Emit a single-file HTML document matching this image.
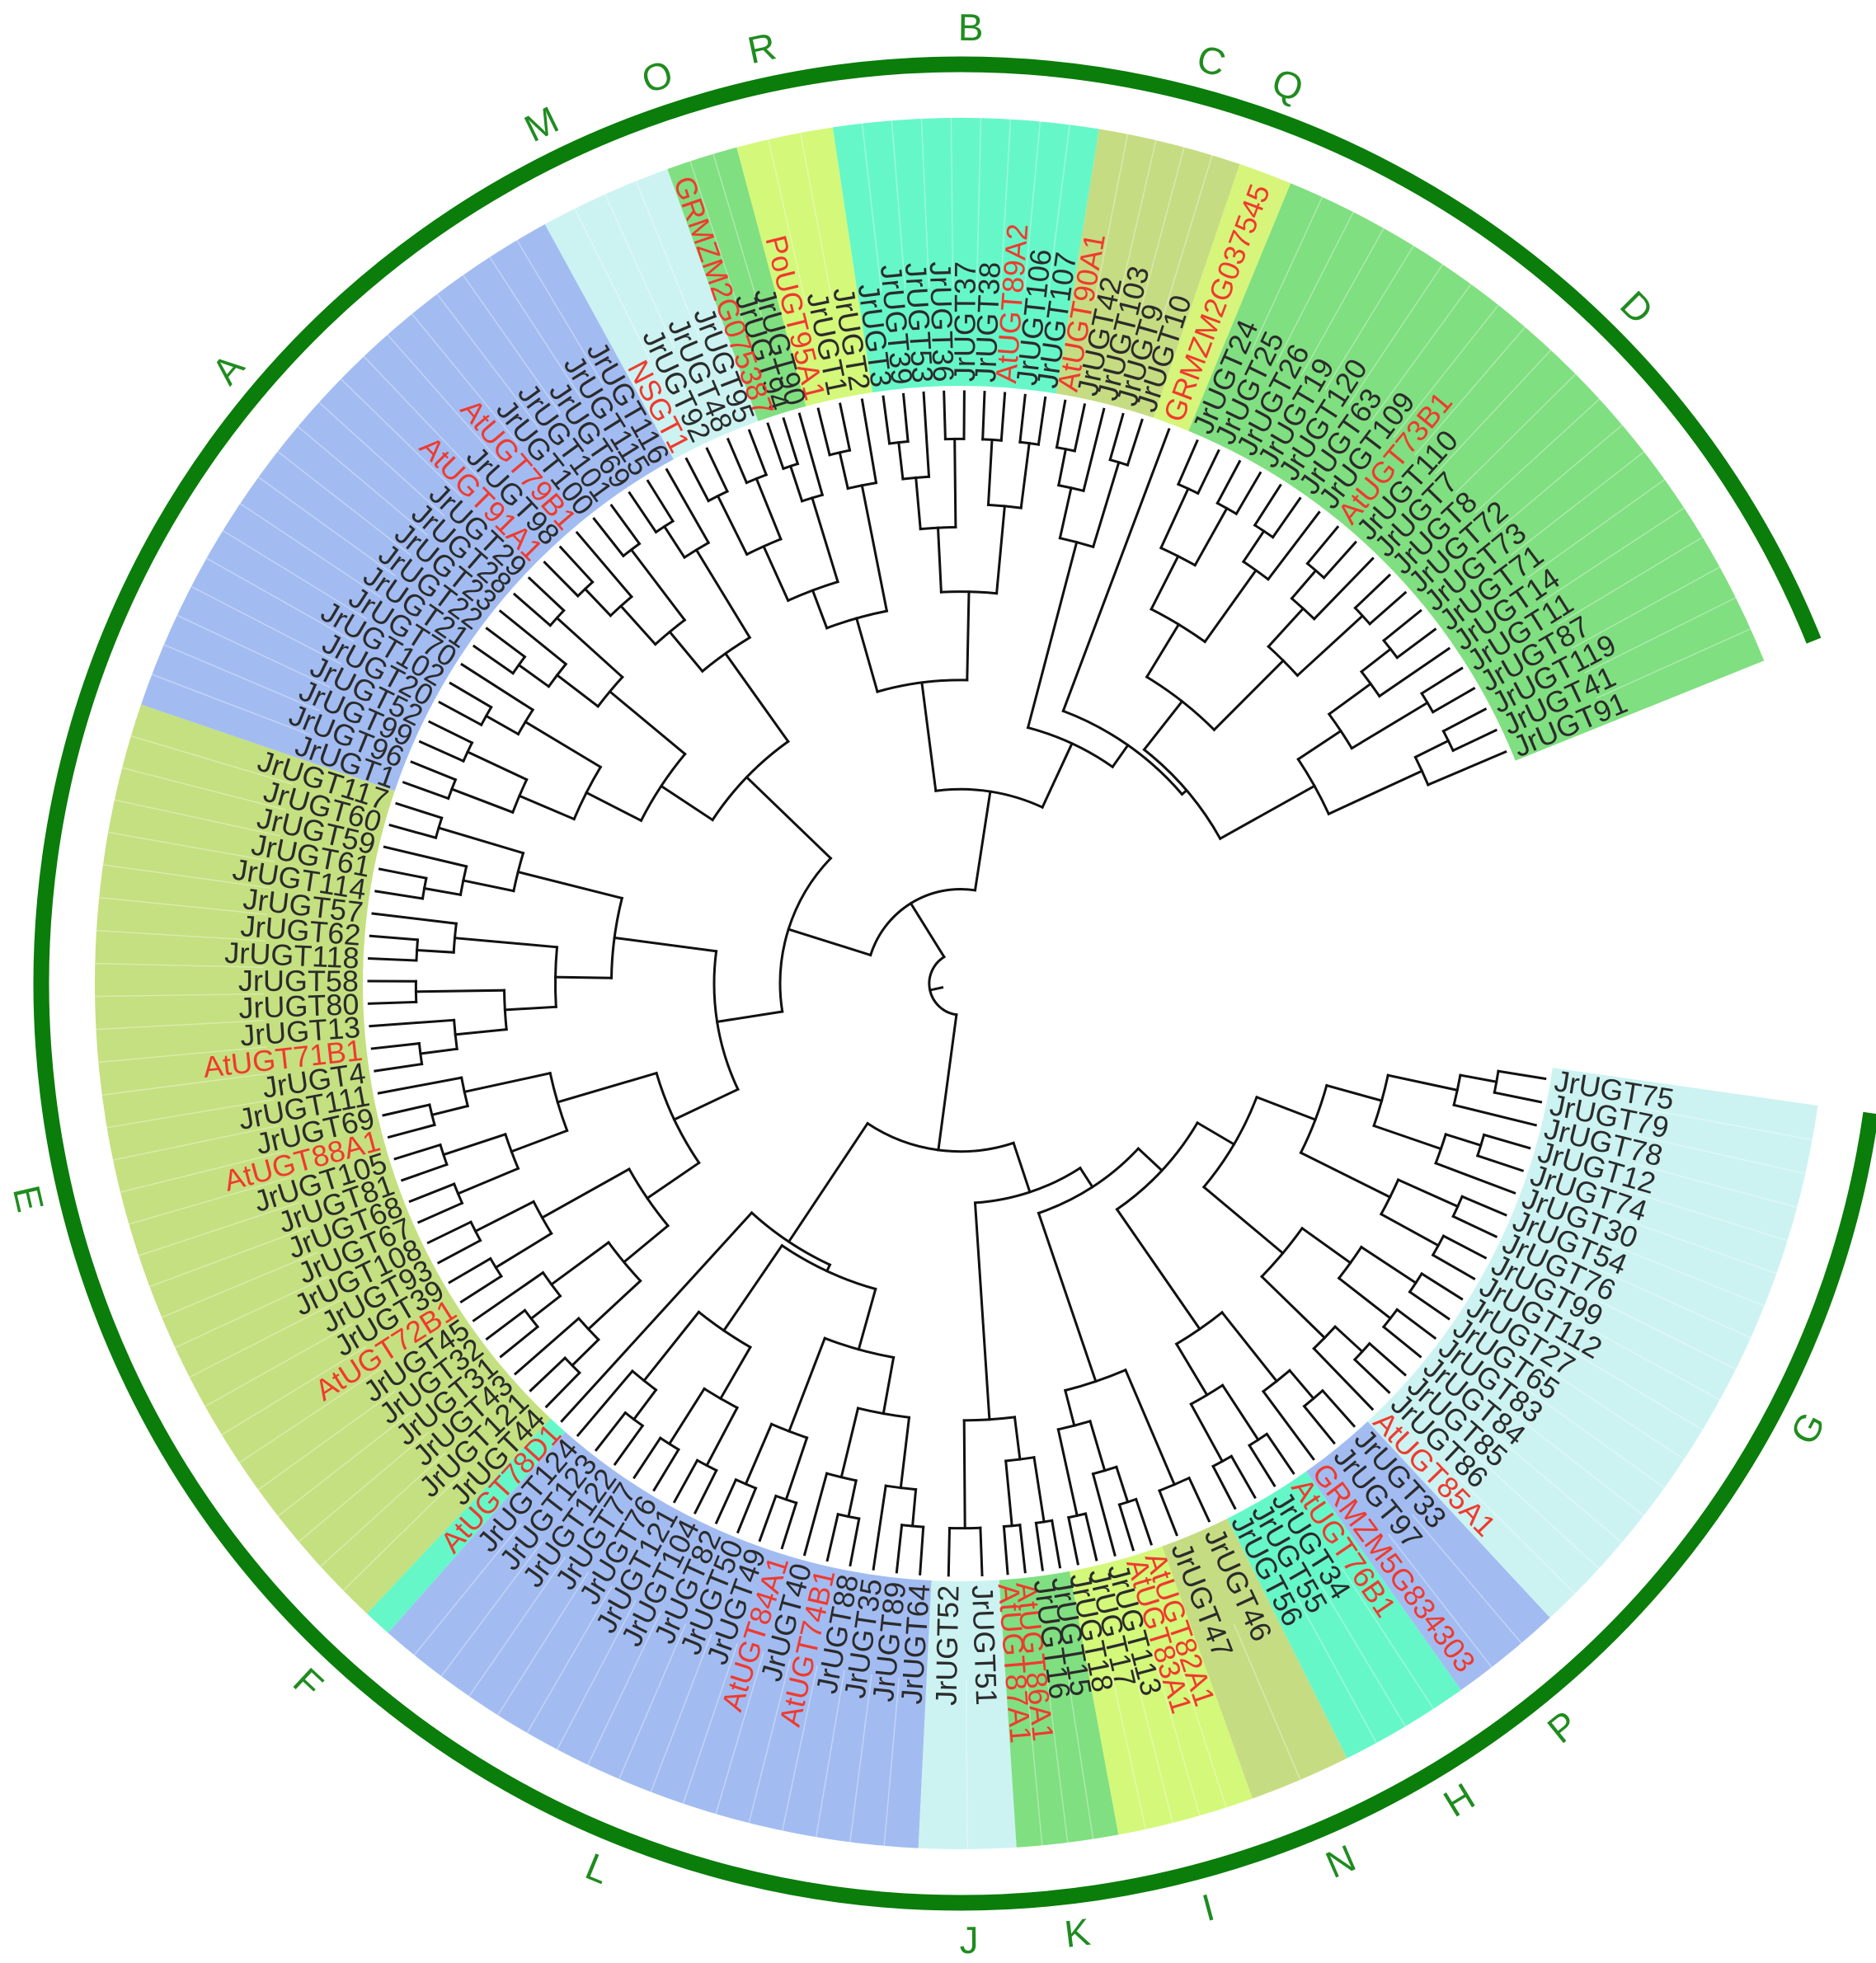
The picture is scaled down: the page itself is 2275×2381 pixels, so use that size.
<!DOCTYPE html>
<html><head><meta charset="utf-8">
<style>
html,body{margin:0;padding:0;background:#fff;}
svg{display:block;}
text{font-family:"Liberation Sans",Arial,sans-serif;}
</style></head>
<body>
<svg id="s" width="2275" height="2381" viewBox="0 0 2275 2381" xmlns="http://www.w3.org/2000/svg"></svg>
<script>
const cx=1165, cy=1193;
const R_TIP=718, R_LAB=730, B_IN=725, B_OUT=1050, ARC_R=1115, LET_R=1160;
const NS="http://www.w3.org/2000/svg";
const svg=document.getElementById('s');
function P(r,a){const t=a*Math.PI/180;return [cx+r*Math.cos(t), cy-r*Math.sin(t)];}
function el(tag,attrs,parent){const e=document.createElementNS(NS,tag);for(const k in attrs)e.setAttribute(k,attrs[k]);(parent||svg).appendChild(e);return e;}

const sectors=[
 ["D",21.9,67.6,"#80df80",["JrUGT91","JrUGT41","JrUGT119","JrUGT87","JrUGT11","JrUGT14","JrUGT71","JrUGT73","JrUGT72","JrUGT8","JrUGT7","JrUGT110","AtUGT73B1","JrUGT109","JrUGT63","JrUGT120","JrUGT19","JrUGT26","JrUGT25","JrUGT24"],45],
 ["Q",67.6,71.2,"#d6f57a",["GRMZM2G037545"],70],
 ["C",71.2,80.8,"#c6dc82",["JrUGT10","JrUGT9","JrUGT103","JrUGT42","AtUGT90A1"],74.8],
 ["B",80.8,98.5,"#66f7c8",["JrUGT107","JrUGT106","AtUGT89A2","JrUGT38","JrUGT37","JrUGT36","JrUGT53","JrUGT39","JrUGT3"],89.4],
 ["R",98.5,105,"#d4f87a",["JrUGT2","JrUGT1","PoUGT95A1"],102],
 ["O",105,109.8,"#80df80",["JrUGT90","JrUGT94","GRMZM2G075387"],108.5],
 ["M",109.8,118.7,"#ccf3f2",["JrUGT95","JrUGT48","JrUGT92","NSGT1"],116],
 ["A",118.7,161.2,"#a2bcf2",["JrUGT116","JrUGT115","JrUGT69","JrUGT101","JrUGT100","AtUGT79B1","JrUGT98","AtUGT91A1","JrUGT29","JrUGT28","JrUGT23","JrUGT22","JrUGT21","JrUGT70","JrUGT102","JrUGT20","JrUGT52","JrUGT99","JrUGT96","JrUGT1"],140],
 ["E",161.2,226.7,"#c5e080",["JrUGT117","JrUGT60","JrUGT59","JrUGT61","JrUGT114","JrUGT57","JrUGT62","JrUGT118","JrUGT58","JrUGT80","JrUGT13","AtUGT71B1","JrUGT4","JrUGT111","JrUGT69","AtUGT88A1","JrUGT105","JrUGT81","JrUGT68","JrUGT67","JrUGT108","JrUGT93","JrUGT39","AtUGT72B1","JrUGT45","JrUGT32","JrUGT31","JrUGT43","JrUGT121","JrUGT44"],193],
 ["F",226.7,228.6,"#66f7c8",["AtUGT78D1"],227],
 ["L",228.6,267.2,"#a2bcf2",["JrUGT124","JrUGT123","JrUGT122","JrUGT77","JrUGT76","JrUGT121","JrUGT104","JrUGT82","JrUGT50","JrUGT49","AtUGT84A1","JrUGT40","AtUGT74B1","JrUGT88","JrUGT35","JrUGT89","JrUGT64"],247.7],
 ["J",267.2,273.7,"#ccf3f2",["JrUGT52","JrUGT51"],270.5],
 ["K",273.7,280.5,"#80df80",["AtUGT87A1","AtUGT86A1","JrUGT16","JrUGT15"],277],
 ["I",280.5,289.7,"#d4f87a",["JrUGT18","JrUGT17","JrUGT113","AtUGT83A1","AtUGT82A1"],285],
 ["N",289.7,296.5,"#c6dc82",["JrUGT47","JrUGT46"],293.4],
 ["H",296.5,305.3,"#66f7c8",["JrUGT56","JrUGT55","JrUGT34","AtUGT76B1"],301.4],
 ["P",305.3,312.9,"#a2bcf2",["GRMZM5G834303","JrUGT97","JrUGT33"],309],
 ["G",312.9,351.9,"#ccf3f2",["AtUGT85A1","JrUGT86","JrUGT85","JrUGT84","JrUGT83","JrUGT65","JrUGT27","JrUGT112","JrUGT99","JrUGT76","JrUGT54","JrUGT30","JrUGT74","JrUGT12","JrUGT78","JrUGT79","JrUGT75"],332.3]
];

function wedge(a1,a2,rin,rout,fill){
  const p1=P(rin,a1),p2=P(rout,a1),p3=P(rout,a2),p4=P(rin,a2);
  const lg=(a2-a1)>180?1:0;
  el('path',{d:`M${p1} L${p2} A${rout} ${rout} 0 ${lg} 0 ${p3} L${p4} A${rin} ${rin} 0 ${lg} 1 ${p1} Z`,fill:fill});
}
sectors.forEach(s=>wedge(s[1],s[2],B_IN,B_OUT,s[3]));
const sepG=el('g',{stroke:'#ffffff','stroke-opacity':'0.35','stroke-width':'1.5'});
{const p1=P(ARC_R,21.9),p2=P(ARC_R,351.9);
 el('path',{d:`M${p1} A${ARC_R} ${ARC_R} 0 1 0 ${p2}`,fill:'none',stroke:'#0a7d0a','stroke-width':'19'});}

const N_TOT=sectors.reduce((a,s)=>a+s[4].length,0);
const sectorNodes={};
const labG=el('g',{'font-size':'36'});
sectors.forEach(s=>{
  const n=s[4].length, step=(s[2]-s[1])/n;
  const leaves=s[4].map((nm,i)=>{
    const a=s[1]+step*(i+0.5);
    if(i>0){const q1=P(B_IN+120,s[1]+step*i),q2=P(B_OUT,s[1]+step*i);el('line',{x1:q1[0],y1:q1[1],x2:q2[0],y2:q2[1]},sepG);}
    return {leaf:true,a:a,name:nm,size:1};
  });
  sectorNodes[s[0]]=build(leaves);
});
function build(arr){
  if(arr.length===1) return arr[0];
  const n=arr.length;
  let k = n===2?1: Math.max(1,Math.round(n*0.42));
  return {children:[build(arr.slice(0,k)),build(arr.slice(k))]};
}
function J(...c){return {children:c};}
const S=sectorNodes;
const tree=J(
  J( J( J(J(S.D,S.Q),S.C), J(S.B, J(S.R, J(S.O,S.M))) ), J(S.A,S.E) ),
  J( J(S.F,S.L), J( J(S.J,S.K), J( J(S.I,S.N), J( J(S.H,S.P), S.G) ) ) )
);
function sizeOf(n){if(n.leaf)return 1;n.size=n.children.reduce((a,c)=>a+sizeOf(c),0);return n.size;}
sizeOf(tree);
const LN=Math.log(N_TOT);
function rOf(n){if(n.leaf)return R_TIP;return R_TIP-680*Math.pow(Math.log(n.size)/LN,1.25);}
function angOf(n){if(n.leaf)return n.a;n.a=n.children.reduce((a,c)=>a+angOf(c),0)/n.children.length;return n.a;}
angOf(tree);
const treeG=el('g',{stroke:'#111',fill:'none','stroke-width':'3','stroke-linecap':'square'});
function draw(n){
  if(n.leaf)return;
  const r=rOf(n);
  let mn=1e9,mx=-1e9;
  n.children.forEach(c=>{
    mn=Math.min(mn,c.a);mx=Math.max(mx,c.a);
    const p1=P(r,c.a),p2=P(rOf(c),c.a);
    el('line',{x1:p1[0].toFixed(1),y1:p1[1].toFixed(1),x2:p2[0].toFixed(1),y2:p2[1].toFixed(1)},treeG);
    draw(c);
  });
  const q1=P(r,mn),q2=P(r,mx);
  el('path',{d:`M${q1[0].toFixed(1)},${q1[1].toFixed(1)} A${r.toFixed(1)} ${r.toFixed(1)} 0 ${(mx-mn)>180?1:0} 0 ${q2[0].toFixed(1)},${q2[1].toFixed(1)}`},treeG);
}
draw(tree);
{const p=P(rOf(tree),tree.a),p0=P(rOf(tree)-15,tree.a);el('line',{x1:p0[0],y1:p0[1],x2:p[0],y2:p[1]},treeG);}

function allLeaves(n,out){if(n.leaf)out.push(n);else n.children.forEach(c=>allLeaves(c,out));return out;}
allLeaves(tree,[]).forEach(l=>{
  const a=l.a, p=P(R_LAB,a);
  const right=Math.cos(a*Math.PI/180)>0.0001;
  const rot=right?-a:180-a;
  const t=el('text',{x:p[0].toFixed(1),y:p[1].toFixed(1),'text-anchor':right?'start':'end','dominant-baseline':'central',
    transform:`rotate(${rot.toFixed(2)} ${p[0].toFixed(1)} ${p[1].toFixed(1)})`,
    fill:l.name.startsWith('Jr')?'#2b2b2b':'#f03a2e'},labG);
  t.textContent=l.name;
});
sectors.forEach(s=>{
  const a=s[5], p=P(LET_R,a);
  const rot = (a<=180)? 90-a : 270-a;
  const t=el('text',{x:p[0].toFixed(1),y:p[1].toFixed(1),'text-anchor':'middle','dominant-baseline':'central','font-size':'46',fill:'#1f8c1f',
    transform:`rotate(${rot.toFixed(2)} ${p[0].toFixed(1)} ${p[1].toFixed(1)})`});
  t.textContent=s[0];
});
</script>
</body></html>
